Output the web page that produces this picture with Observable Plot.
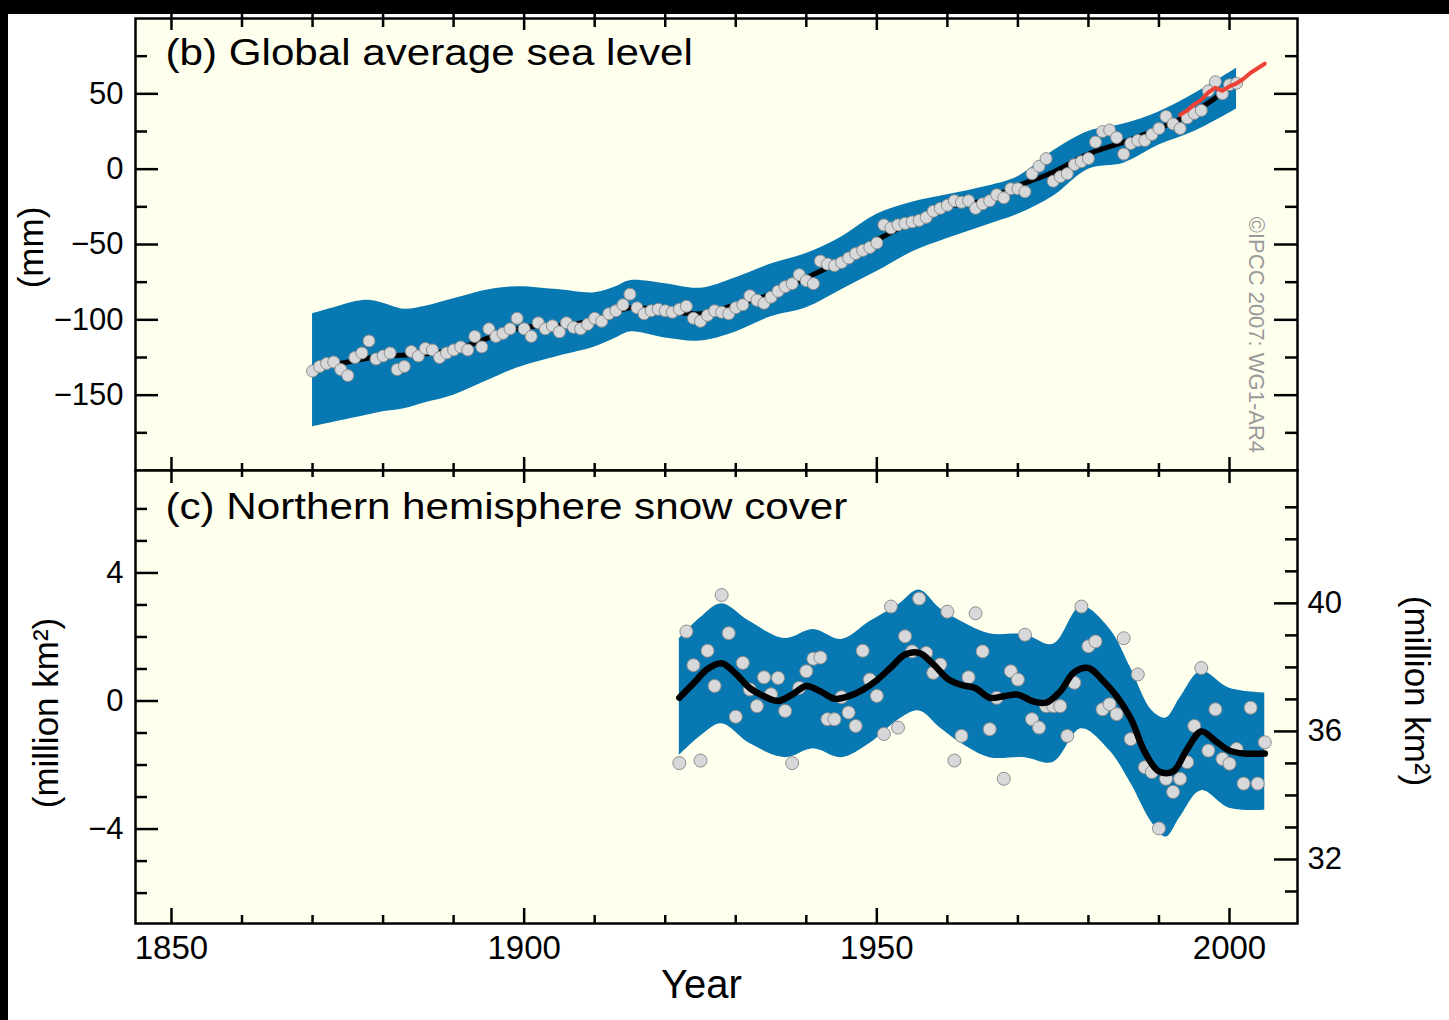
<!DOCTYPE html>
<html><head><meta charset="utf-8">
<script src="https://cdn.jsdelivr.net/npm/d3@7"></script>
<script src="https://cdn.jsdelivr.net/npm/@observablehq/plot@0.6"></script>
<style>
html,body{margin:0;padding:0;background:#fff;width:1449px;height:1020px;overflow:hidden;}
#topPanel,#botPanel{position:absolute;left:0;}
#topPanel{top:0}
#botPanel{top:470px}
.strip{position:absolute;background:#000;z-index:10}
</style></head><body>
<div id="topPanel"></div><div id="botPanel"></div>
<div class="strip" style="left:0;top:0;width:1449px;height:14px"></div>
<div class="strip" style="left:0;top:0;width:8px;height:1020px"></div>
<script>
// ---------- DATA ----------
// (b) Global average sea level, annual values (mm), 1870..2001
const seaStart = 1870;
const seaLevel = [
  -134,-131,-129,-128,-133,-137,-125,-122,-114,-126,
  -124,-122,-133,-131,-121,-124,-119,-120,-125,-122,
  -120,-118,-120,-111,-118,-106,-111,-109,-106,-99,
  -106,-111,-102,-106,-104,-108,-102,-105,-106,-103,
  -99,-101,-96,-94,-90,-83,-92,-96,-94,-93,
  -94,-95,-93,-91,-99,-101,-97,-94,-95,-96,
  -92,-90,-84,-87,-89,-85,-81,-78,-76,-70,
  -74,-76,-61,-63,-64,-62,-59,-56,-54,-52,
  -49,-37,-39,-37,-36,-35,-34,-32,-28,-26,
  -24,-21,-22,-21,-26,-23,-21,-17,-19,-13,
  -13,-15,-3,2,7,-8,-5,-3,3,5,
  7,18,25,26,21,10,17,19,19,23,
  27,35,30,27,34,37,39,52,58,50,
  56,57
];
// decadal smooth of sea level
const seaSmoothYears = [1870,1875,1880,1885,1890,1895,1900,1905,1910,1915,1920,1925,1930,1935,1940,1945,1950,1955,1960,1965,1970,1975,1980,1985,1990,1995,2000];
const seaSmoothValues = [-133,-128,-124,-123,-120,-112,-105,-104,-100,-92,-94,-96,-90,-83,-72,-61,-47,-35,-25,-21,-11,-2,10,18,27,38,54];
// uncertainty band
const seaBandYears = [1870,1873,1876,1878,1880,1883,1886,1890,1895,1899,1905,1910,1913,1915,1920,1925,1930,1935,1940,1945,1950,1955,1960,1965,1970,1975,1980,1985,1990,1995,2001];
const seaBandLower = [-171,-168,-165,-163,-161,-159,-155,-150,-140,-132,-124,-118,-112,-108,-112,-114,-108,-98,-92,-80,-68,-55,-46,-38,-30,-18,0,4,16,25,40];
const seaBandUpper = [-96,-92,-88,-87,-89,-93,-91,-86,-80,-78,-80,-82,-78,-74,-76,-79,-72,-63,-56,-45,-30,-22,-17,-12,-5,12,25,30,38,50,67];
// satellite altimetry (red)
const satYears = [1993,1994,1995,1996,1997,1998,1999,2000,2001,2002,2003,2004,2005];
const satValues = [36,39,43,46,51,54,52,55,57,60,64,67,70];

// (c) Northern hemisphere snow cover anomaly (million km2), 1922..2005
const snowStart = 1922;
const snowValues = [
  -1.94,2.17,1.12,-1.86,1.57,0.47,3.31,2.12,-0.49,1.19,
  0.36,-0.16,0.74,0.21,0.72,-0.31,-1.94,0.41,0.93,1.32,
  1.36,-0.57,-0.57,0.12,-0.36,-0.78,1.57,0.67,0.16,-1.03,
  2.95,-0.83,2.02,1.55,3.2,1.5,0.88,1.14,2.79,-1.86,
  -1.09,0.74,2.74,1.55,-0.88,0.1,-2.43,0.93,0.67,2.07,
  -0.57,-0.83,-0.16,-0.16,-0.16,-1.09,0.57,2.95,1.71,1.86,
  -0.26,-0.1,-0.41,1.96,-1.19,0.83,-2.07,-2.22,-3.98,-2.43,
  -2.84,-2.43,-1.91,-0.78,1.03,-1.55,-0.26,-1.81,-1.96,-1.5,
  -2.58,-0.21,-2.58,-1.29
];
const snowSmoothYears = [1922,1924,1926,1928,1930,1932,1934,1936,1938,1940,1942,1944,1946,1948,1950,1952,1954,1956,1958,1960,1962,1964,1966,1968,1970,1972,1974,1976,1978,1980,1982,1984,1986,1988,1990,1992,1994,1996,1998,2000,2002,2005];
const snowSmoothValues = [0.1,0.55,1.0,1.18,0.85,0.4,0.15,0.0,0.2,0.47,0.3,0.07,0.15,0.35,0.65,1.05,1.45,1.5,1.15,0.7,0.5,0.4,0.1,0.15,0.2,0.0,-0.05,0.3,0.9,1.03,0.65,0.15,-0.55,-1.6,-2.2,-2.2,-1.5,-0.95,-1.25,-1.55,-1.64,-1.64];
const snowBandYears = [1922,1925,1928,1932,1937,1941,1945,1949,1953,1956,1959,1962,1966,1971,1975,1979,1983,1986,1989,1991,1993,1996,2000,2005];
const snowBandUpper = [1.95,2.6,3.04,2.48,1.95,2.23,1.92,2.48,3.0,3.47,2.88,2.48,2.1,2.07,1.77,2.95,2.26,1.03,-0.3,-0.53,0.1,0.93,0.4,0.25];
const snowBandLower = [-1.7,-1.1,-0.71,-1.33,-1.77,-1.49,-1.77,-1.33,-0.6,-0.31,-0.84,-1.33,-1.77,-1.77,-1.92,-0.87,-1.55,-2.57,-3.8,-4.25,-3.63,-2.8,-3.35,-3.41];
const snowAbsOffset = 36.95; // right axis: total snow cover (million km2)

// axis ticks
const yearLabels = [1850,1900,1950,2000];
const yearMinor = [1860,1870,1880,1890,1910,1920,1930,1940,1960,1970,1980,1990];
const mmLabels = [-150,-100,-50,0,50];
const mmMinor = [-175,-125,-75,-25,25,75];
const snowLabels = [-4,0,4];
const snowMinor = [-6,-5,-3,-2,-1,1,2,3,5,6];
const snowAbsLabels = [32,36,40];
const snowAbsMinor = [31,33,34,35,37,38,39,41,42,43];

// ---------- TABLES ----------
const seaRows = seaLevel.map((v,i)=>({year: seaStart+i, v}));
const seaSmooth = seaSmoothYears.map((y,i)=>({year:y, v:seaSmoothValues[i]}));
const seaBand = seaBandYears.map((y,i)=>({year:y, lo:seaBandLower[i], hi:seaBandUpper[i]}));
const sat = satYears.map((y,i)=>({year:y, v:satValues[i]}));
const snowRows = snowValues.map((v,i)=>({year: snowStart+i, v}));
const snowSmooth = snowSmoothYears.map((y,i)=>({year:y, v:snowSmoothValues[i]}));
const snowBand = snowBandYears.map((y,i)=>({year:y, lo:snowBandLower[i], hi:snowBandUpper[i]}));

// ---------- LAYOUT ----------
const W = 1449, ML = 135, MR = 152, FW = W - ML - MR;
const H1 = 470, MT1 = 18, FH1 = H1 - MT1;
const H2 = 550, MB2 = 97, FH2 = H2 - MB2;
const bg = "#FFFFEE", blue = "#0778B1";
const font = "'Liberation Sans', Arial, Helvetica, sans-serif";
const xDomain = [1844.9, 2009.64];
const fmt = d => d < 0 ? "\u2212" + Math.abs(d) : String(d);
const TK = {stroke: "black", strokeWidth: 2.5};
const dotStyle = {fill: "#d6d8da", stroke: "#8e8e8e", strokeWidth: 1};

const topPlot = Plot.plot({
  width: W, height: H1,
  marginTop: MT1, marginBottom: 0, marginLeft: ML, marginRight: MR,
  style: {fontFamily: font, fontSize: "31px", background: "transparent", overflow: "visible", color: "black"},
  x: {domain: xDomain, axis: null},
  y: {domain: [-200, 100]},
  marks: [
    Plot.frame({fill: bg, stroke: "none"}),
    Plot.areaY(seaBand, {x: "year", y1: "lo", y2: "hi", fill: blue, curve: "catmull-rom"}),
    Plot.line(seaSmooth, {x: "year", y: "v", stroke: "black", strokeWidth: 5, curve: "catmull-rom"}),
    Plot.dot(seaRows, {x: "year", y: "v", r: 6, ...dotStyle}),
    Plot.line(sat, {x: "year", y: "v", stroke: "#EE4136", strokeWidth: 4}),
    Plot.text(["\u00A9IPCC 2007: WG1-AR4"], {x: [2003.8], y: [-110], text: d => d, rotate: 90, fontSize: 22, fill: "#9a9a9a"}),
    Plot.text(["(b) Global average sea level"], {frameAnchor: "top-left", dx: 30, dy: 20, textAnchor: "start", lineAnchor: "top", fontSize: 37}),
    Plot.text(["(mm)"], {frameAnchor: "left", dx: -104, dy: 3, rotate: -90, textAnchor: "middle", fontSize: 35}),
    Plot.axisY({ticks: mmLabels, tickFormat: fmt, tickSize: 0, tickPadding: 12, fontSize: 31, label: null}),
    Plot.tickY(mmLabels, {y: d => d, insetRight: FW - 23, ...TK}),
    Plot.tickY(mmMinor, {y: d => d, insetRight: FW - 12, ...TK}),
    Plot.tickY(mmLabels, {y: d => d, insetLeft: FW - 23, ...TK}),
    Plot.tickY(mmMinor, {y: d => d, insetLeft: FW - 12, ...TK}),
    Plot.tickX(yearLabels, {x: d => d, insetTop: -13, insetBottom: FH1 - 12, ...TK}),
    Plot.tickX(yearMinor, {x: d => d, insetTop: -6, insetBottom: FH1 - 9, ...TK}),
    Plot.tickX(yearLabels, {x: d => d, insetTop: FH1 - 13, insetBottom: 0, ...TK}),
    Plot.tickX(yearMinor, {x: d => d, insetTop: FH1 - 7, insetBottom: 0, ...TK}),
    Plot.frame({stroke: "black", strokeWidth: 2.5})
  ]
});

const botPlot = Plot.plot({
  width: W, height: H2,
  marginTop: 0, marginBottom: MB2, marginLeft: ML, marginRight: MR,
  style: {fontFamily: font, fontSize: "31px", background: "transparent", overflow: "visible", color: "black"},
  x: {domain: xDomain},
  y: {domain: [-6.95, 7.2]},
  marks: [
    Plot.frame({fill: bg, stroke: "none"}),
    Plot.areaY(snowBand, {x: "year", y1: "lo", y2: "hi", fill: blue, curve: "catmull-rom"}),
    Plot.dot(snowRows, {x: "year", y: "v", r: 6.5, ...dotStyle}),
    Plot.line(snowSmooth, {x: "year", y: "v", stroke: "black", strokeWidth: 6.5, curve: "catmull-rom"}),
    Plot.text(["(c) Northern hemisphere snow cover"], {frameAnchor: "top-left", dx: 30, dy: 22, textAnchor: "start", lineAnchor: "top", fontSize: 37}),
    Plot.text(["(million km\u00B2)"], {frameAnchor: "left", dx: -89, dy: 16, rotate: -90, textAnchor: "middle", fontSize: 35}),
    Plot.text(["(million km\u00B2)"], {frameAnchor: "right", dx: 119, dy: -6, rotate: 90, textAnchor: "middle", fontSize: 35}),
    Plot.text(["Year"], {frameAnchor: "bottom", dx: -15, dy: 62, textAnchor: "middle", lineAnchor: "middle", fontSize: 40}),
    Plot.axisY({ticks: snowLabels, tickFormat: fmt, tickSize: 0, tickPadding: 12, fontSize: 31, label: null}),
    Plot.axisY({anchor: "right", ticks: snowAbsLabels.map(v => v - snowAbsOffset), tickFormat: d => String(Math.round(d + snowAbsOffset)), tickSize: 0, tickPadding: 10, fontSize: 31, label: null}),
    Plot.axisX({ticks: yearLabels, tickFormat: d => String(d), tickSize: 0, tickPadding: 12, fontSize: 33, label: null}),
    Plot.tickY(snowLabels, {y: d => d, insetRight: FW - 23, ...TK}),
    Plot.tickY(snowMinor, {y: d => d, insetRight: FW - 12, ...TK}),
    Plot.tickY(snowAbsLabels.map(v => v - snowAbsOffset), {y: d => d, insetLeft: FW - 23, ...TK}),
    Plot.tickY(snowAbsMinor.map(v => v - snowAbsOffset), {y: d => d, insetLeft: FW - 12, ...TK}),
    Plot.tickX(yearLabels, {x: d => d, insetTop: 0, insetBottom: FH2 - 13, ...TK}),
    Plot.tickX(yearMinor, {x: d => d, insetTop: 0, insetBottom: FH2 - 7, ...TK}),
    Plot.tickX(yearLabels, {x: d => d, insetTop: FH2 - 15, insetBottom: 0, ...TK}),
    Plot.tickX(yearMinor, {x: d => d, insetTop: FH2 - 8, insetBottom: 0, ...TK}),
    Plot.frame({stroke: "black", strokeWidth: 2.5})
  ]
});

// widen the panel titles slightly, as in the original lettering
for (const svg of [topPlot, botPlot]) {
  d3.select(svg).selectAll("text")
    .filter(function() { const t = this.textContent; return t.startsWith("(b)") || t.startsWith("(c)"); })
    .attr("transform", function() { return (this.getAttribute("transform") || "") + " scale(1.14,1)"; });
}

document.getElementById("topPanel").appendChild(topPlot);
document.getElementById("botPanel").appendChild(botPlot);
</script></body></html>
